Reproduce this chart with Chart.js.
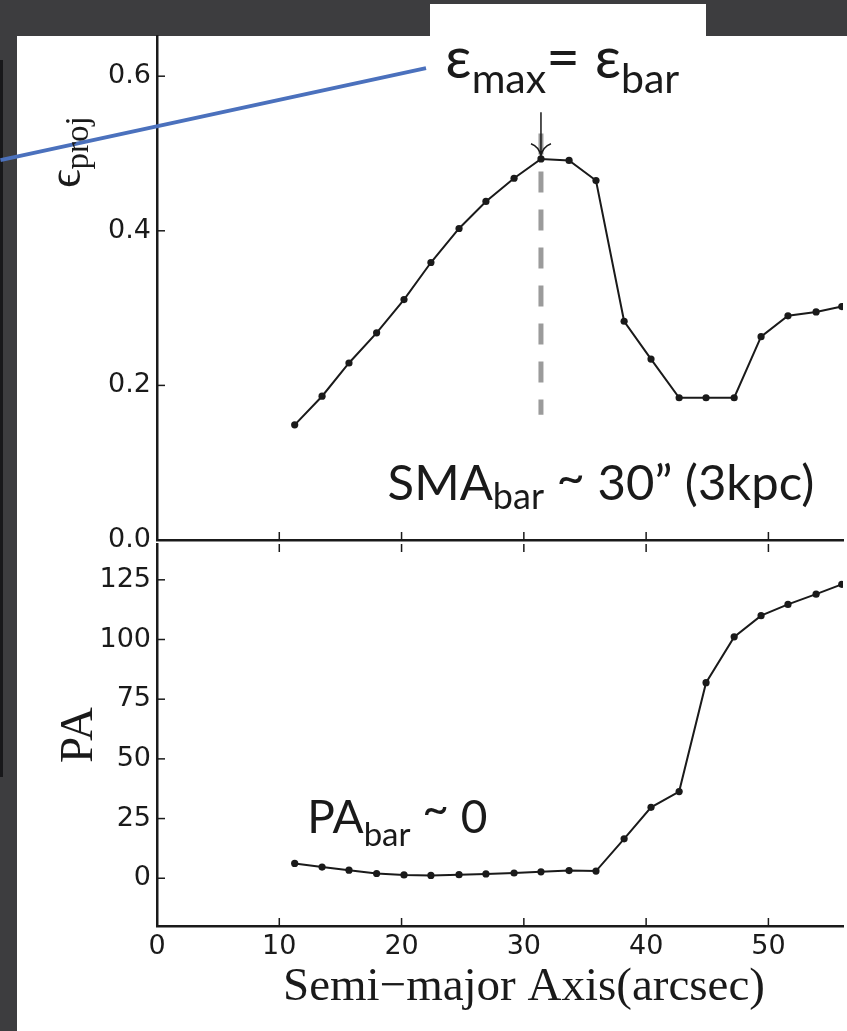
<!DOCTYPE html>
<html>
<head>
<meta charset="utf-8">
<script src="https://cdn.jsdelivr.net/npm/chart.js@4.4.1/dist/chart.umd.min.js"></script>
<style>
  html, body { margin: 0; padding: 0; }
  body { width: 847px; height: 1031px; background: #3d3d3f; position: relative; overflow: hidden; }
  #paper { position: absolute; left: 17px; top: 36px; width: 830px; height: 995px; background: #fff; }
  #tab { position: absolute; left: 430px; top: 4px; width: 276px; height: 40px; background: #fff; }
  #edge { position: absolute; left: 0; top: 60px; width: 3px; height: 717px; background: #18181a; }
  canvas { position: absolute; left: 0; }
  #topChart { top: 0; }
  #botChart { top: 540px; }
</style>
</head>
<body>
<div id="paper"></div>
<div id="tab"></div>
<div id="edge"></div>
<canvas id="topChart" width="847" height="560"></canvas>
<canvas id="botChart" width="847" height="491"></canvas>
<script>
// profile
const smaArcsec = [11.26, 13.5, 15.7, 17.96, 20.2, 22.4, 24.7, 26.9, 29.2, 31.4, 33.7,
                   35.9, 38.2, 40.4, 42.7, 44.9, 47.2, 49.4, 51.6, 53.9, 56.0];
const ellipticity = [0.149, 0.186, 0.229, 0.268, 0.311, 0.359, 0.403, 0.438, 0.468, 0.493, 0.491,
                     0.465, 0.283, 0.234, 0.184, 0.184, 0.184, 0.263, 0.290, 0.295, 0.302];
const posAngle = [6.2, 4.7, 3.4, 2.0, 1.4, 1.2, 1.5, 1.8, 2.2, 2.7, 3.2,
                  3.0, 16.5, 29.7, 36.3, 81.9, 101.1, 110.0, 114.7, 119.0, 123.1];

const smaTicks = [0, 10, 20, 30, 40, 50];
const ellipTicks = [0, 0.2, 0.4, 0.6];
const paTicks = [0, 25, 50, 75, 100, 125];

// bar marker (dashed line + arrow at the ellipticity peak)
const barSma = 31.4;
const barDash = [0.526, 0.162];
const barArrow = [0.5535, 0.497];

const ink = '#1a1a1a';
const tickFont = { family: 'DejaVu Sans', size: 27 };
const noteFont = "Lato, 'Open Sans', sans-serif";

function drawRich(ctx, x, y, parts) {
  parts.forEach(p => {
    ctx.font = p.size + 'px ' + (p.family || noteFont);
    ctx.fillText(p.t, x, y + (p.dy || 0));
    x += ctx.measureText(p.t).width;
  });
}

const inwardTicks = {
  id: 'inwardTicks',
  afterDraw(chart, args, opts) {
    const ctx = chart.ctx, a = chart.chartArea;
    ctx.save();
    ctx.strokeStyle = ink;
    ctx.lineWidth = 1.5;
    opts.sides.forEach(side => {
      const sc = side === 'left' ? chart.scales.y : chart.scales.x;
      sc.ticks.forEach(t => {
        const p = sc.getPixelForValue(t.value);
        ctx.beginPath();
        if (side === 'left') { ctx.moveTo(a.left, p); ctx.lineTo(a.left + 8, p); }
        if (side === 'bottom') { ctx.moveTo(p, a.bottom); ctx.lineTo(p, a.bottom - 8); }
        if (side === 'top') { ctx.moveTo(p, a.top); ctx.lineTo(p, a.top + 8); }
        ctx.stroke();
      });
    });
    ctx.restore();
  }
};

const topNotes = {
  id: 'topNotes',
  afterDraw(chart) {
    const ctx = chart.ctx, a = chart.chartArea;
    const xs = chart.scales.x, ys = chart.scales.y;
    ctx.save();

    // blue pointer line coming from outside the panel
    ctx.strokeStyle = '#4b71bd';
    ctx.lineWidth = 4;
    ctx.beginPath();
    ctx.moveTo(xs.getPixelForValue(-12.8), ys.getPixelForValue(0.4914));
    ctx.lineTo(xs.getPixelForValue(22.0), ys.getPixelForValue(0.6104));
    ctx.stroke();

    // arrow onto the peak
    const ax = xs.getPixelForValue(barSma);
    const a0 = ys.getPixelForValue(barArrow[0]), a1 = ys.getPixelForValue(barArrow[1]);
    ctx.strokeStyle = ink;
    ctx.lineWidth = 1.5;
    ctx.beginPath();
    ctx.moveTo(ax, a0); ctx.lineTo(ax, a1);
    ctx.moveTo(ax - 10, a1 - 12); ctx.quadraticCurveTo(ax - 2, a1 - 9, ax, a1);
    ctx.moveTo(ax + 10, a1 - 12); ctx.quadraticCurveTo(ax + 2, a1 - 9, ax, a1);
    ctx.stroke();

    ctx.fillStyle = ink;
    ctx.textAlign = 'left';
    ctx.textBaseline = 'alphabetic';
    drawRich(ctx, xs.getPixelForValue(23.58), ys.getPixelForValue(0.5974), [
      { t: 'ε', size: 58 }, { t: 'max', size: 41, dy: 15 }, { t: '= ε', size: 58 }, { t: 'bar', size: 41, dy: 15 }
    ]);
    drawRich(ctx, xs.getPixelForValue(18.86), ys.getPixelForValue(0.0517), [
      { t: 'SMA', size: 49 }, { t: 'bar', size: 36, dy: 9 }, { t: ' ', size: 49 },
      { t: '~', size: 49, dy: -6 }, { t: ' 30\u201D (3kpc)', size: 49 }
    ]);

    // y title: epsilon_proj, rotated
    ctx.translate(a.left - 77, a.top + 152);
    ctx.rotate(-Math.PI / 2);
    drawRich(ctx, 0, 0, [
      { t: '\u03F5', size: 46, family: "'Liberation Serif', serif" },
      { t: 'proj', size: 33, dy: 8, family: "'Liberation Serif', serif" }
    ]);
    ctx.restore();
  }
};

const botNotes = {
  id: 'botNotes',
  afterDraw(chart) {
    const ctx = chart.ctx, a = chart.chartArea;
    const xs = chart.scales.x, ys = chart.scales.y;
    ctx.save();
    ctx.fillStyle = ink;
    ctx.textBaseline = 'alphabetic';
    ctx.textAlign = 'left';
    drawRich(ctx, xs.getPixelForValue(12.28), ys.getPixelForValue(19.0), [
      { t: 'PA', size: 46 }, { t: 'bar', size: 33, dy: 13 }, { t: ' ', size: 46 },
      { t: '~', size: 46, dy: -8 }, { t: ' 0', size: 46 }
    ]);

    ctx.font = "47px 'Liberation Serif', serif";
    ctx.textAlign = 'center';
    ctx.fillText('Semi\u2212major Axis(arcsec)', a.left + 367, a.bottom + 74);

    ctx.translate(a.left - 65, (a.top + a.bottom) / 2);
    ctx.rotate(-Math.PI / 2);
    ctx.fillText('PA', 0, 0);
    ctx.restore();
  }
};

function xScale(showLabels, h) {
  return {
    type: 'linear', min: 0, max: 56.1,
    afterBuildTicks: s => { s.ticks = smaTicks.map(v => ({ value: v })); },
    afterFit: s => { s.height = h; s.paddingLeft = 0; s.paddingRight = 0; },
    grid: { display: false, drawTicks: false },
    border: { display: true, color: ink, width: 2.5 },
    ticks: { display: showLabels, font: tickFont, color: ink, padding: 5, maxRotation: 0, callback: v => v }
  };
}

function yScale(min, max, ticks, fmt) {
  return {
    type: 'linear', min: min, max: max,
    afterBuildTicks: s => { s.ticks = ticks.map(v => ({ value: v })); },
    afterFit: s => { s.width = 157; s.paddingTop = 0; s.paddingBottom = 0; },
    grid: { display: false, drawTicks: false },
    border: { display: true, color: ink, width: 2.5 },
    ticks: { font: tickFont, color: ink, padding: 6, callback: fmt }
  };
}

const lineStyle = {
  borderColor: ink, backgroundColor: ink, borderWidth: 2,
  pointRadius: 3.6, pointBorderWidth: 0, tension: 0, order: 1
};

new Chart(document.getElementById('topChart'), {
  type: 'line',
  data: {
    datasets: [
      Object.assign({ data: smaArcsec.map((x, i) => ({ x: x, y: ellipticity[i] })) }, lineStyle),
      { data: barDash.map(y => ({ x: barSma, y: y })), borderColor: '#9b9b9b', borderWidth: 5,
        borderDash: [21, 17], pointRadius: 0, order: 2 }
    ]
  },
  options: {
    responsive: false, animation: false,
    layout: { padding: { top: 36, left: 0, right: 0, bottom: 0 } },
    plugins: { legend: { display: false }, tooltip: { enabled: false }, inwardTicks: { sides: ['left', 'bottom'] } },
    scales: {
      x: xScale(false, 20),
      y: yScale(0, 0.652, ellipTicks, v => v.toFixed(1))
    }
  },
  plugins: [inwardTicks, topNotes]
});

new Chart(document.getElementById('botChart'), {
  type: 'line',
  data: {
    datasets: [
      Object.assign({ data: smaArcsec.map((x, i) => ({ x: x, y: posAngle[i] })) }, lineStyle)
    ]
  },
  options: {
    responsive: false, animation: false,
    layout: { padding: { top: 0, left: 0, right: 0, bottom: 0 } },
    plugins: { legend: { display: false }, tooltip: { enabled: false }, inwardTicks: { sides: ['left', 'bottom', 'top'] } },
    scales: {
      x: xScale(true, 105),
      y: yScale(-20, 140, paTicks, v => v)
    }
  },
  plugins: [inwardTicks, botNotes]
});
</script>
</body>
</html>
